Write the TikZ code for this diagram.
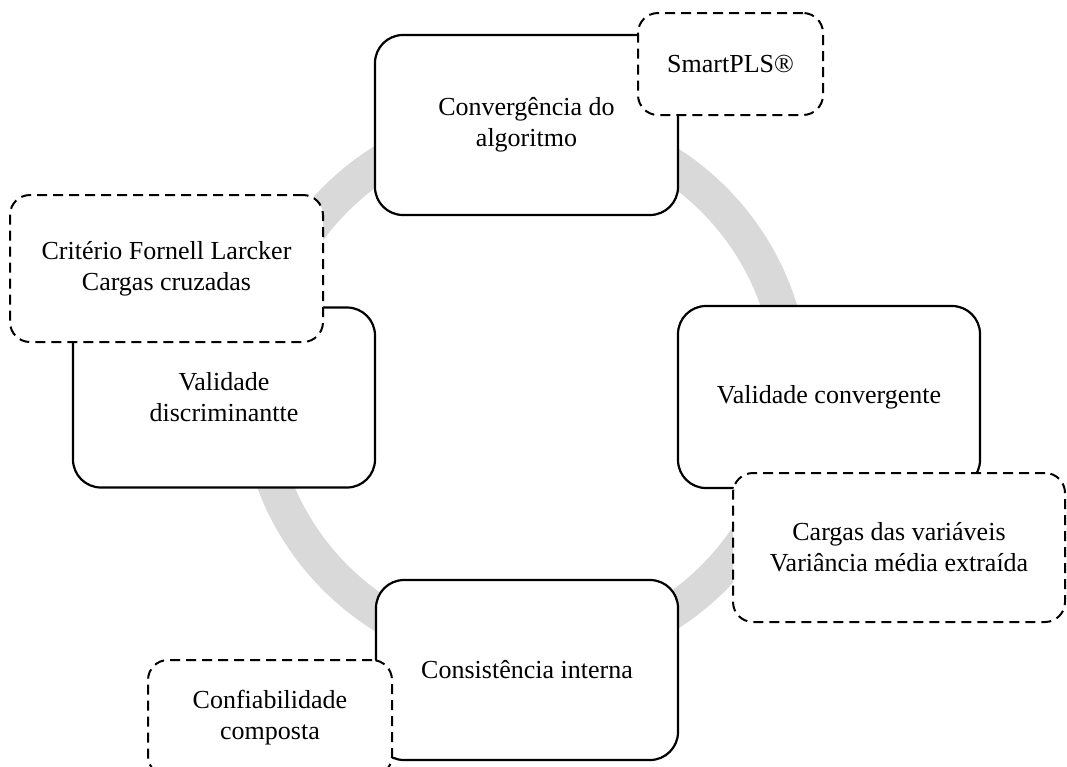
\documentclass[tikz,border=0pt]{standalone}
\usepackage{fontspec}
\setmainfont{Liberation Serif}
\definecolor{ringgray}{HTML}{D9D9D9}
\tikzset{
  stage/.style={draw=black, fill=white, line width=2.2pt, rounded corners=28pt,
    minimum width=#1, align=center, inner sep=0pt,
    font=\fontsize{26}{31}\selectfont},
  note/.style={draw=black, fill=white, line width=2pt, rounded corners=20pt,
    dash pattern=on 10pt off 6pt, align=center, inner sep=0pt,
    font=\fontsize{26}{31}\selectfont},
}
\begin{document}
\begin{tikzpicture}[x=1pt, y=-1pt]
  \useasboundingbox (0,0) rectangle (1067,766);
  % background cycle ring
  \coordinate (ringc) at (524.5,388.5);
  \draw[ringgray, line width=35pt] (ringc) circle[radius=267.5pt];
  % main stages
  \node[stage=303pt, minimum height=180pt] (conv) at (526.5,125) {Convergência do\\algoritmo};
  \node[stage=302pt, minimum height=182pt] (vconv) at (829,397) {Validade convergente};
  \node[stage=302pt, minimum height=180pt] (cons) at (527,670) {Consistência interna};
  \node[stage=302pt, minimum height=180pt] (vdisc) at (224,397.5) {Validade\\discriminantte};
  % notes attached to each stage
  \node[note, minimum width=185pt, minimum height=102pt] (smart) at (730.5,64) {SmartPLS®};
  \node[note, minimum width=313pt, minimum height=147pt] (fornell) at (166.5,268.5) {Critério Fornell Larcker\\Cargas cruzadas};
  \node[note, minimum width=332pt, minimum height=149pt] (cargas) at (899,547.5) {Cargas das variáveis\\Variância média extraída};
  \node[note, minimum width=244pt, minimum height=116pt] (confiab) at (270,718) {Confiabilidade\\composta};
\end{tikzpicture}
\end{document}
